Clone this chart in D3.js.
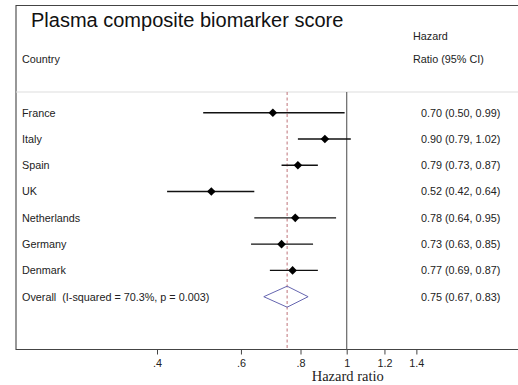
<!DOCTYPE html>
<html>
<head>
<meta charset="utf-8">
<script src="https://cdn.jsdelivr.net/npm/d3@7"></script>
<style>
  body { margin: 0; background: #fff; }
  text { font-family: Arial, "Liberation Sans", sans-serif; white-space: pre; }
</style>
</head>
<body>
<script>
var countries = ['France', 'Italy', 'Spain', 'UK', 'Netherlands', 'Germany', 'Denmark'];
var hr = [0.70, 0.90, 0.79, 0.52, 0.78, 0.73, 0.77];
var lower = [0.50, 0.79, 0.73, 0.42, 0.64, 0.63, 0.69];
var upper = [0.99, 1.02, 0.87, 0.64, 0.95, 0.85, 0.87];

var overallLabel = 'Overall  (I-squared = 70.3%, p = 0.003)';
var overall = [0.75, 0.67, 0.83];

var tickValues = [0.4, 0.6, 0.8, 1, 1.2, 1.4];
var tickLabels = ['.4', '.6', '.8', '1', '1.2', '1.4'];

var width = 518;
var height = 385;
var fs = 10.8;

var svg = d3.select('body').append('svg')
  .attr('width', width)
  .attr('height', height);

var x = d3.scaleLog().domain([0.4, 1]).range([157, 346.7]);

var rowNames = countries.concat([overallLabel]);
var y = d3.scalePoint().domain(d3.range(rowNames.length)).range([112.7, 296.7]);

var fmt = d3.format('.2f');

// frame
svg.append('path')
  .attr('d', 'M518,5.5H16V349.5H518')
  .attr('fill', 'none')
  .attr('stroke', '#444')
  .attr('stroke-width', 1.1);

svg.append('line')
  .attr('x1', 16).attr('x2', 518)
  .attr('y1', 92).attr('y2', 92)
  .attr('stroke', '#ddd');

// title and headers
svg.append('text')
  .attr('x', 31).attr('y', 27)
  .attr('font-size', 20)
  .attr('fill', '#111')
  .text('Plasma composite biomarker score');

svg.append('text').attr('x', 22).attr('y', 63)
  .attr('font-size', fs).attr('fill', '#222').text('Country');
svg.append('text').attr('x', 413).attr('y', 39.5)
  .attr('font-size', fs).attr('fill', '#222').text('Hazard');
svg.append('text').attr('x', 413).attr('y', 63)
  .attr('font-size', fs).attr('fill', '#222').text('Ratio (95% CI)');

// reference lines
svg.append('line')
  .attr('x1', x(1)).attr('x2', x(1))
  .attr('y1', 92).attr('y2', 349.5)
  .attr('stroke', '#666').attr('stroke-width', 1.2);

svg.append('line')
  .attr('x1', x(overall[0])).attr('x2', x(overall[0]))
  .attr('y1', 92).attr('y2', 349.5)
  .attr('stroke', '#c98a90').attr('stroke-width', 1.2)
  .attr('stroke-dasharray', '3,2.5');

// row labels
svg.selectAll('.lab').data(rowNames).enter().append('text')
  .attr('class', 'lab')
  .attr('x', 22)
  .attr('y', function(d, i) { return y(i) + 3.8; })
  .attr('font-size', fs)
  .attr('fill', '#222')
  .text(function(d) { return d; });

// estimates text
var estText = hr.map(function(d, i) {
  return fmt(d) + ' (' + fmt(lower[i]) + ', ' + fmt(upper[i]) + ')';
});
estText.push(fmt(overall[0]) + ' (' + fmt(overall[1]) + ', ' + fmt(overall[2]) + ')');

svg.selectAll('.est').data(estText).enter().append('text')
  .attr('class', 'est')
  .attr('x', 421)
  .attr('y', function(d, i) { return y(i) + 3.8; })
  .attr('font-size', fs)
  .attr('fill', '#222')
  .text(function(d) { return d; });

// CI lines
svg.selectAll('.ci').data(hr).enter().append('line')
  .attr('class', 'ci')
  .attr('x1', function(d, i) { return x(lower[i]); })
  .attr('x2', function(d, i) { return x(upper[i]); })
  .attr('y1', function(d, i) { return y(i); })
  .attr('y2', function(d, i) { return y(i); })
  .attr('stroke', '#111')
  .attr('stroke-width', 1.4);

// point estimates
svg.selectAll('.pt').data(hr).enter().append('path')
  .attr('class', 'pt')
  .attr('d', function(d, i) {
    var cx = x(d), cy = y(i), r = 4.3;
    return 'M' + (cx - r) + ',' + cy + 'L' + cx + ',' + (cy - r) +
      'L' + (cx + r) + ',' + cy + 'L' + cx + ',' + (cy + r) + 'Z';
  })
  .attr('fill', '#000');

// overall diamond
var oy = y(rowNames.length - 1);
svg.append('path')
  .attr('d', 'M' + x(overall[1]) + ',' + oy + 'L' + x(overall[0]) + ',' + (oy - 10.5) +
    'L' + x(overall[2]) + ',' + oy + 'L' + x(overall[0]) + ',' + (oy + 10.5) + 'Z')
  .attr('fill', 'none')
  .attr('stroke', '#6666b0')
  .attr('stroke-width', 1);

// axis
var axis = d3.axisBottom(x)
  .tickValues(tickValues)
  .tickFormat(function(d, i) { return tickLabels[i]; })
  .tickSize(5)
  .tickPadding(5);

var gAxis = svg.append('g')
  .attr('transform', 'translate(0,349.5)')
  .call(axis);
gAxis.select('.domain').remove();
gAxis.selectAll('.tick line').attr('stroke', '#444');
gAxis.selectAll('.tick text')
  .attr('font-family', 'Arial, "Liberation Sans", sans-serif')
  .attr('font-size', fs)
  .attr('fill', '#222');

svg.append('text')
  .attr('x', x(1) + 1).attr('y', 381)
  .attr('text-anchor', 'middle')
  .style('font-family', '"Liberation Serif", "DejaVu Serif", serif')
  .attr('font-size', 14.5)
  .attr('fill', '#222')
  .text('Hazard ratio');
</script>
</body>
</html>
